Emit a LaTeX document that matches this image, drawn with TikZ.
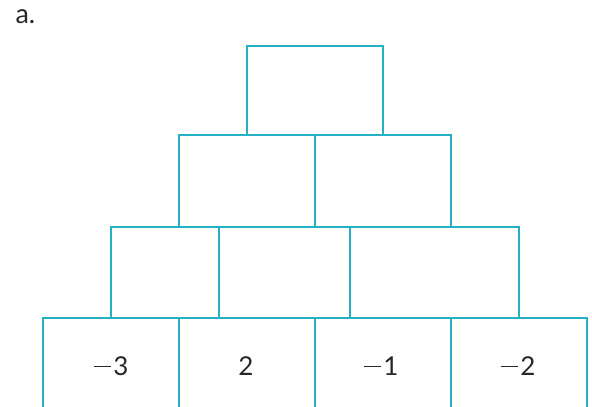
\documentclass[tikz,border=0pt]{standalone}
\usepackage{fontspec}
\setmainfont{Lato}
\definecolor{boxline}{RGB}{38,176,196}
\definecolor{numtext}{RGB}{40,40,40}
\newcommand{\mneg}{\rule[0.3em]{0.68em}{0.055em}\hspace{0.08em}}
\begin{document}
\begin{tikzpicture}[x=1pt,y=-1pt,
  cell/.style={draw=boxline,line width=1.6pt,rectangle,inner sep=0pt,anchor=north west},
  num/.style={text=numtext,font=\fontsize{26}{26}\selectfont,anchor=base}]
\clip (0,0) rectangle (592,407);
\useasboundingbox (0,0) rectangle (592,407);
\node[text=numtext,font=\fontsize{27}{27}\selectfont,anchor=base west] (lbl) at (12,23) {a.};
% row 1
\node[cell,minimum width=136pt,minimum height=89pt] (r1a) at (246,45) {};
% row 2
\node[cell,minimum width=136pt,minimum height=92pt] (r2a) at (178,134) {};
\node[cell,minimum width=136pt,minimum height=92pt] (r2b) at (314,134) {};
% row 3
\node[cell,minimum width=108pt,minimum height=91pt] (r3a) at (110,226) {};
\node[cell,minimum width=131pt,minimum height=91pt] (r3b) at (218,226) {};
\node[cell,minimum width=169pt,minimum height=91pt] (r3c) at (349,226) {};
% row 4 (open at the bottom edge)
\node[cell,minimum width=136pt,minimum height=110pt] (r4a) at (42,317) {};
\node[cell,minimum width=136pt,minimum height=110pt] (r4b) at (178,317) {};
\node[cell,minimum width=136pt,minimum height=110pt] (r4c) at (314,317) {};
\node[cell,minimum width=136pt,minimum height=110pt] (r4d) at (450,317) {};
% numbers
\node[num] (n1) at (111,375) {\mneg 3};
\node[num] (n2) at (246,375) {2};
\node[num] (n3) at (381,375) {\mneg 1};
\node[num] (n4) at (518,375) {\mneg 2};
\end{tikzpicture}
\end{document}
